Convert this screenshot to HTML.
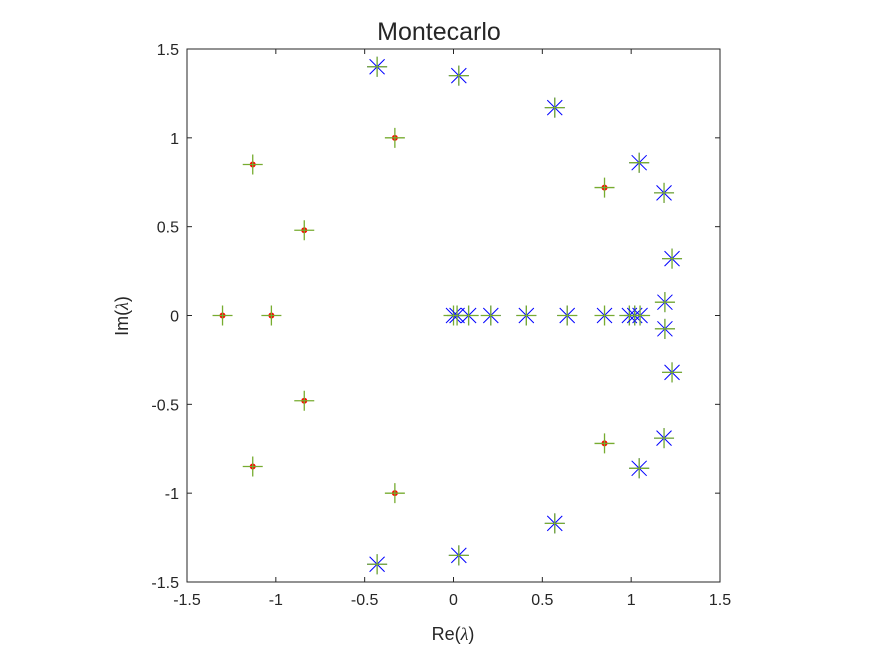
<!DOCTYPE html>
<html><head><meta charset="utf-8"><style>
body{margin:0;background:#fff;}
svg text{font-family:"Liberation Sans",Arial,sans-serif;fill:#262626;}
</style></head><body>
<svg id="c" width="875" height="656" xmlns="http://www.w3.org/2000/svg">
<rect width="875" height="656" fill="#fff"/>
<g id="axes"></g>
<g id="marks"></g>
<text x="439" y="40" font-size="25" text-anchor="middle">Montecarlo</text>
<text x="453" y="640" font-size="18" text-anchor="middle">Re(<tspan font-family="Liberation Serif" font-style="italic">λ</tspan>)</text>
<text transform="translate(128,316) rotate(-90)" font-size="18" text-anchor="middle">Im(<tspan font-family="Liberation Serif" font-style="italic">λ</tspan>)</text>
</svg>
<script>
const xTicks=[-1.5,-1,-0.5,0,0.5,1,1.5];
const yTicks=[-1.5,-1,-0.5,0,0.5,1,1.5];
const tickLabels=["-1.5","-1","-0.5","0","0.5","1","1.5"];
const starRe=[-0.43,0.03,0.57,1.045,1.185,1.23,-0.43,0.03,0.57,1.045,1.185,1.23,0.0,0.02,0.085,0.21,0.41,0.64,0.85,0.99,1.02,1.05,1.19,1.19];
const starIm=[1.40,1.35,1.17,0.86,0.69,0.32,-1.40,-1.35,-1.17,-0.86,-0.69,-0.32,0,0,0,0,0,0,0,0,0,0,0.075,-0.075];
const dotRe=[-0.33,0.85,-1.13,-0.84,-1.30,-1.025,-0.33,0.85,-1.13,-0.84];
const dotIm=[1.00,0.72,0.85,0.48,0,0,-1.00,-0.72,-0.85,-0.48];
const X0=187,X1=720,Y0=582,Y1=49;
const sx=v=>X0+(v+1.5)/3*(X1-X0);
const sy=v=>Y0-(v+1.5)/3*(Y0-Y1);
const NS="http://www.w3.org/2000/svg";
function mk(p,t,a){const e=document.createElementNS(NS,t);for(const k in a)e.setAttribute(k,a[k]);p.appendChild(e);return e;}
const ax=document.getElementById('axes');
const frame=mk(ax,'rect',{x:X0,y:Y1,width:X1-X0,height:Y0-Y1,fill:'none',stroke:'#262626','stroke-width':1});


xTicks.forEach((v,i)=>{
 const x=sx(v);
 mk(ax,'line',{x1:x,x2:x,y1:Y0,y2:Y0-5,stroke:'#262626'});
 mk(ax,'line',{x1:x,x2:x,y1:Y1,y2:Y1+5,stroke:'#262626'});
 const t=mk(ax,'text',{x:x,y:Y0+23,'font-size':16,'text-anchor':'middle'});
 t.textContent=tickLabels[i];
 
 
});
yTicks.forEach((v,i)=>{
 const y=sy(v);
 mk(ax,'line',{x1:X0,x2:X0+5,y1:y,y2:y,stroke:'#262626'});
 mk(ax,'line',{x1:X1,x2:X1-5,y1:y,y2:y,stroke:'#262626'});
 const t=mk(ax,'text',{x:X0-8,y:y+6,'font-size':16,'text-anchor':'end'});
 t.textContent=tickLabels[i];
 
 
});
const mg=document.getElementById('marks');
const G='#77ac30';
starRe.forEach((r,i)=>{
 const x=sx(r),y=sy(starIm[i]);
 const g=mk(mg,'g',{});
 
 
 const d=7.5,a=10;
 mk(g,'path',{d:`M${x-d},${y-d}L${x+d},${y+d}M${x-d},${y+d}L${x+d},${y-d}M${x-a},${y}L${x+a},${y}M${x},${y-a}L${x},${y+a}`,stroke:'#0000ff','stroke-width':1});
 mk(g,'path',{d:`M${x-a},${y}L${x+a},${y}M${x},${y-a}L${x},${y+a}`,stroke:G,'stroke-width':1.3});
});
dotRe.forEach((r,i)=>{
 const x=sx(r),y=sy(dotIm[i]);
 const g=mk(mg,'g',{});
 
 
 mk(g,'circle',{cx:x,cy:y,r:3,fill:'#ff0000'});
 mk(g,'path',{d:`M${x-10},${y}L${x+10},${y}M${x},${y-10}L${x},${y+10}`,stroke:G,'stroke-width':1.3});
});
</script>
</body></html>
